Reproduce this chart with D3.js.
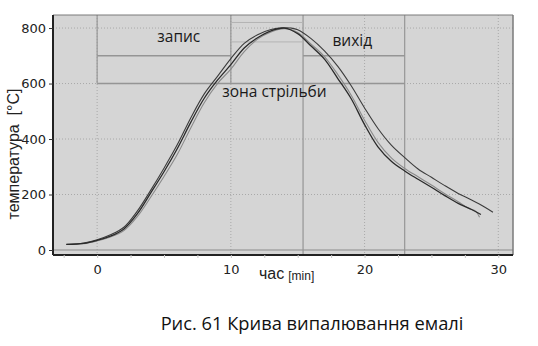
<!DOCTYPE html>
<html>
<head>
<meta charset="utf-8">
<script src="https://cdn.jsdelivr.net/npm/d3@7"></script>
<style>
  html, body { margin: 0; padding: 0; background: #fff; }
  svg { display: block; }
</style>
</head>
<body>
<svg id="chart" width="538" height="346"></svg>
<script>
// ---- data ----
const xTicks = [0, 10, 20, 30];
const yTicks = [0, 200, 400, 600, 800];

// curve 1 (darkest)
const run1Time = [-2.3, -1, 0, 1, 2, 3, 4, 5, 6, 7, 8, 9, 10, 11, 12, 13, 14, 15, 16, 17, 18, 19, 20, 21, 22, 23, 24, 25, 26, 27, 28, 28.7];
const run1Temp = [20, 24, 35, 50, 76, 130, 205, 282, 366, 460, 546, 612, 668, 728, 765, 790, 800, 780, 735, 688, 618, 545, 452, 372, 320, 285, 255, 226, 196, 168, 146, 128];

// curve 2 (light)
const run2Time = [-2.3, -1, 0, 1, 2, 3, 4, 5, 6, 7, 8, 9, 10, 11, 12, 13, 14, 15, 16, 17, 18, 19, 20, 21, 22, 23, 24, 25, 26, 27, 27.8, 28.3, 28.6];
const run2Temp = [21, 23, 33, 47, 70, 120, 190, 265, 345, 440, 530, 600, 652, 715, 760, 786, 798, 784, 742, 697, 632, 558, 468, 388, 332, 294, 264, 234, 203, 174, 150, 140, 118];

// curve 3 (medium, slower cooling)
const run3Time = [-2.3, -1, 0, 1, 2, 3, 4, 5, 6, 7, 8, 9, 10, 11, 12, 13, 14, 14.5, 15, 16, 17, 18, 19, 20, 21, 22, 23, 24, 25, 26, 27, 28, 29, 29.6];
const run3Temp = [20, 25, 37, 55, 82, 140, 215, 295, 380, 476, 562, 626, 690, 745, 776, 795, 801, 800, 794, 762, 718, 662, 592, 512, 438, 378, 333, 292, 262, 232, 204, 180, 154, 136];

// process zones
const zoneVertTimes = [15.4, 23];
const zoneVertTop = [0, 10];
const zoneSegX1 = [0, 15.4, 0, 10, 10];
const zoneSegX2 = [10, 23, 23, 15.4, 15.4];
const zoneSegY  = [700, 700, 600, 820, 750];
const zoneLabels = ["запис", "вихід", "зона стрільби"];
const zoneLabelT = [4.5, 17.6, 9.35];
const zoneLabelV = [748, 737, 552];

const yTitle = "температура\u00A0\u00A0[°C]";
const xTitle = "час";
const xUnit = "[min]";
const caption = "Рис. 61 Крива випалювання емалі";

// ---- drawing ----
const svg = d3.select("#chart");
const L = 53, R = 513, T = 15, B = 255;
const x = d3.scaleLinear().domain([-3.3, 31.1]).range([L, R]);
const y = d3.scaleLinear().domain([-18, 847]).range([B, T]);

// plot background
svg.append("rect").attr("x", L).attr("y", T).attr("width", R - L).attr("height", B - T)
  .attr("fill", "#d5d5d5");

// dotted grid
const g = svg.append("g");
g.selectAll(".gx").data(xTicks).join("line")
  .attr("x1", d => x(d)).attr("x2", d => x(d)).attr("y1", T).attr("y2", B)
  .attr("stroke", "#a9a9a9").attr("stroke-width", 1).attr("stroke-dasharray", "1,2");
g.selectAll(".gy").data(yTicks.filter(d => d > 0)).join("line")
  .attr("x1", L).attr("x2", R).attr("y1", d => y(d)).attr("y2", d => y(d))
  .attr("stroke", "#a9a9a9").attr("stroke-width", 1).attr("stroke-dasharray", "1,2");

// zero line
svg.append("line").attr("x1", L).attr("x2", R).attr("y1", y(0)).attr("y2", y(0))
  .attr("stroke", "#8c8c8c").attr("stroke-width", 1.2);

// zone lines
const zc = "#959595";
svg.selectAll(".zv").data(zoneVertTimes).join("line")
  .attr("x1", d => x(d)).attr("x2", d => x(d)).attr("y1", T).attr("y2", B)
  .attr("stroke", zc).attr("stroke-width", 1.2);
svg.selectAll(".zt").data(zoneVertTop).join("line")
  .attr("x1", d => x(d)).attr("x2", d => x(d)).attr("y1", T).attr("y2", y(600))
  .attr("stroke", zc).attr("stroke-width", 1.2);
svg.selectAll(".zs").data(zoneSegY).join("line")
  .attr("x1", (d, i) => x(zoneSegX1[i])).attr("x2", (d, i) => x(zoneSegX2[i]))
  .attr("y1", d => y(d)).attr("y2", d => y(d))
  .attr("stroke", (d, i) => i >= 3 ? "#b4b4b4" : zc).attr("stroke-width", (d, i) => i >= 3 ? 1 : 1.4);

// zone labels
svg.selectAll(".zl").data(zoneLabels).join("text")
  .attr("x", (d, i) => x(zoneLabelT[i])).attr("y", (d, i) => y(zoneLabelV[i]))
  .attr("font-family", "'Open Sans', sans-serif").attr("font-size", 15.5)
  .attr("fill", "#1a1a1a").text(d => d);

// curves
const line = d3.line().x(d => x(d[0])).y(d => y(d[1])).curve(d3.curveCatmullRom);
const runs = [
  {t: run2Time, v: run2Temp, c: "#8a8a8a", w: 1.1},
  {t: run3Time, v: run3Temp, c: "#3c3c3c", w: 1.1},
  {t: run1Time, v: run1Temp, c: "#2a2a2a", w: 1.3}
];
runs.forEach(r => {
  svg.append("path").datum(r.t.map((t, i) => [t, r.v[i]]))
    .attr("d", line).attr("fill", "none").attr("stroke", r.c).attr("stroke-width", r.w);
});

// plot frame (top/right lighter)
svg.append("line").attr("x1", L).attr("x2", R).attr("y1", T).attr("y2", T).attr("stroke", "#7a7a7a").attr("stroke-width", 1);
svg.append("line").attr("x1", R).attr("x2", R).attr("y1", T).attr("y2", B).attr("stroke", "#7a7a7a").attr("stroke-width", 1.5);

// axes
const xAxis = svg.append("g").attr("transform", `translate(0,${B})`)
  .call(d3.axisBottom(x).tickValues(xTicks).tickSize(0).tickPadding(10).tickFormat(d3.format("d")));
const xMinor = svg.append("g").attr("transform", `translate(0,${B})`)
  .call(d3.axisBottom(x).tickValues(d3.range(-2.5, 31, 2.5)).tickSize(3).tickFormat(""));
xMinor.select(".domain").remove();
xMinor.selectAll("line").attr("stroke", "#c8c8c8");
const yAxis = svg.append("g").attr("transform", `translate(${L},0)`)
  .call(d3.axisLeft(y).tickValues(yTicks).tickSize(4).tickPadding(3).tickFormat(d3.format("d")));
[xAxis, yAxis].forEach(a => {
  a.select(".domain").attr("stroke", "#222").attr("stroke-width", 2);
  a.selectAll("text").attr("font-family", "'DejaVu Sans', Verdana, sans-serif").attr("font-size", 13).attr("fill", "#222");
  a.selectAll("line").attr("stroke", "#333");
});
xAxis.select(".domain").attr("d", `M${L},0H${R}`);
yAxis.select(".domain").attr("d", `M0,${T}V${B}`);

// axis titles
svg.append("text").attr("transform", `translate(19,${154}) rotate(-90)`)
  .attr("text-anchor", "middle").attr("font-family", "'Liberation Sans', Arial, sans-serif")
  .attr("font-size", 16).attr("fill", "#222").text(yTitle);
const xt = svg.append("text").attr("x", 259).attr("y", 279)
  .attr("font-family", "'Liberation Sans', Arial, sans-serif").attr("fill", "#222");
xt.append("tspan").attr("font-size", 16).text(xTitle);
xt.append("tspan").attr("font-size", 12).attr("dx", 4).attr("dy", 1).text(xUnit);

// caption
svg.append("text").attr("x", 312).attr("y", 330).attr("text-anchor", "middle")
  .attr("font-family", "'Open Sans', 'Noto Sans', sans-serif").attr("font-size", 18.3)
  .attr("fill", "#111").text(caption);
</script>
</body>
</html>
